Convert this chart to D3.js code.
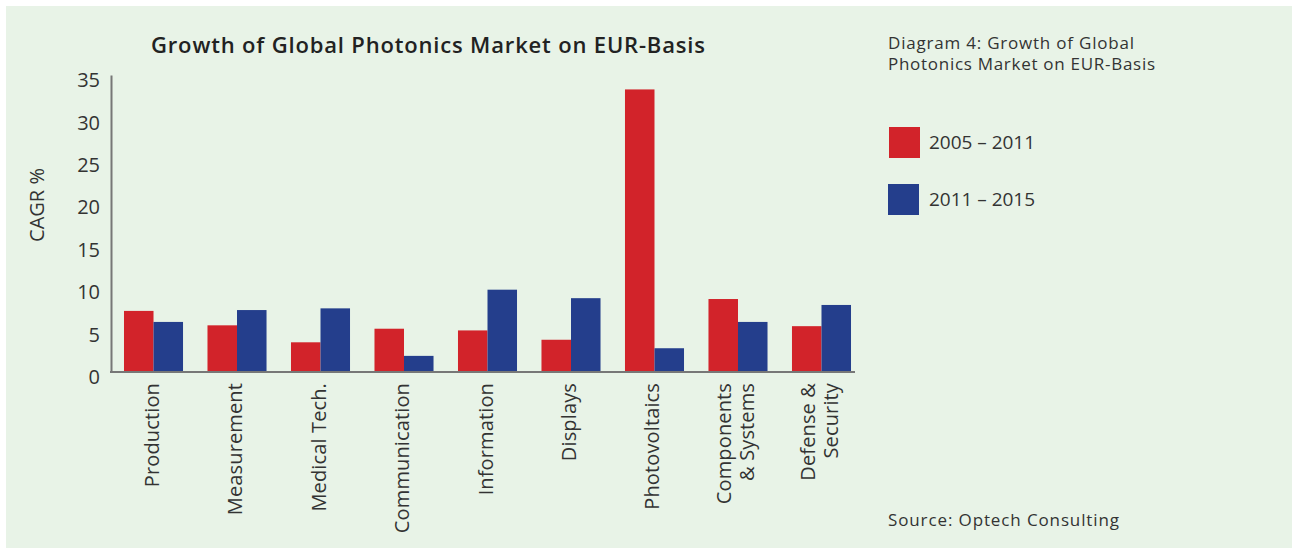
<!DOCTYPE html>
<html>
<head>
<meta charset="utf-8">
<script src="https://cdn.jsdelivr.net/npm/d3@7"></script>
<style>
  html, body { margin: 0; padding: 0; background: #ffffff; }
  svg { display: block; }
  text { font-family: "Open Sans", Lato, sans-serif; fill: #333333; }
</style>
</head>
<body>
<svg id="chart" width="1292" height="548"></svg>
<script>
const categories = ["Production", "Measurement", "Medical Tech.", "Communication", "Information", "Displays", "Photovoltaics", "Components\n& Systems", "Defense &\nSecurity"];
const series2005_2011 = [7.2, 5.5, 3.5, 5.1, 4.9, 3.8, 33.3, 8.6, 5.4];
const series2011_2015 = [5.9, 7.3, 7.5, 1.9, 9.7, 8.7, 2.8, 5.9, 7.9];
const seriesNames = ["2005 – 2011", "2011 – 2015"];
const yTicks = [0, 5, 10, 15, 20, 25, 30, 35];
const colors = ["#d2232a", "#243e8c"];

const svg = d3.select("#chart");
svg.append("rect").attr("x", 6).attr("y", 6).attr("width", 1286).attr("height", 542).attr("fill", "#e8f3e7");

function fit(sel, target) {
  const node = sel.node();
  const w = node.getComputedTextLength();
  const n = node.textContent.length;
  sel.style("letter-spacing", ((target - w) / Math.max(1, n - 1)) + "px");
}

const y = d3.scaleLinear().domain([0, 35]).range([372, 75]);
const x = d3.scaleBand().domain(categories).range([111.8, 863.2]).paddingInner(0.293).paddingOuter(0.146);
const xs = d3.scaleBand().domain([0, 1]).range([0, x.bandwidth()]);

// title
const title = svg.append("text").attr("x", 151).attr("y", 53)
  .style("font-size", "22px").style("font-weight", "600").style("fill", "#222")
  .text("Growth of Global Photonics Market on EUR-Basis");
fit(title, 554);

// y axis
const yAxis = svg.append("g").attr("transform", "translate(111,0)")
  .call(d3.axisLeft(y).tickValues(yTicks).tickSize(0).tickPadding(11));
yAxis.select(".domain").attr("stroke", "#777").attr("stroke-width", 2);
yAxis.selectAll(".tick text").style("font-size", "20px").attr("dy", "0.58em").style("fill", "#333")
  .style("font-family", "'Open Sans', Lato, sans-serif");

// y axis title
svg.append("text").attr("transform", "translate(44,205) rotate(-90)").attr("text-anchor", "middle")
  .style("font-size", "20px").text("CAGR %");

// bars
const data = categories.map((c, i) => ({ c, v: [series2005_2011[i], series2011_2015[i]] }));
const g = svg.append("g");
data.forEach(d => {
  d.v.forEach((v, k) => {
    g.append("rect").attr("x", x(d.c) + xs(k)).attr("width", xs.bandwidth())
      .attr("y", y(v)).attr("height", y(0) - y(v)).attr("fill", colors[k]);
  });
});

// x axis line
const xAxis = svg.append("g").attr("transform", "translate(0,372)")
  .call(d3.axisBottom(x).tickSize(0).tickFormat(""));
xAxis.select(".domain").attr("d", "M110,0H855").attr("stroke", "#777").attr("stroke-width", 2);

// category labels
const probe = svg.append("text").style("font-size", "20px").text("Production");
const ls = (104 - probe.node().getComputedTextLength()) / 9;
probe.remove();
categories.forEach(c => {
  const lines = c.split("\n");
  const cx = x(c) + x.bandwidth() / 2 - 2;
  const n = lines.length;
  const t = svg.append("text").attr("transform", `translate(${cx},383) rotate(-90)`)
    .attr("text-anchor", "end").style("font-size", "20px").style("letter-spacing", ls + "px");
  lines.forEach((l, i) => {
    t.append("tspan").attr("x", 0).attr("y", (i - (n - 1) / 2) * 23).attr("dy", "0.35em").text(l);
  });
});

// side note
const n1 = svg.append("text").attr("x", 888).attr("y", 49).style("font-size", "17px").text("Diagram 4: Growth of Global");
fit(n1, 246);
const n2 = svg.append("text").attr("x", 888).attr("y", 70).style("font-size", "17px").text("Photonics Market on EUR-Basis");
fit(n2, 267);

// legend
const legY = [127, 184];
seriesNames.forEach((s, k) => {
  svg.append("rect").attr("x", 889 - k).attr("y", legY[k]).attr("width", 31).attr("height", 31).attr("fill", colors[k]);
  const t = svg.append("text").attr("x", 929).attr("y", legY[k] + 15.5).attr("dy", "0.35em")
    .style("font-size", "19px").text(s);
  fit(t, 106);
});

// source
const src = svg.append("text").attr("x", 888).attr("y", 526).style("font-size", "17px").text("Source: Optech Consulting");
fit(src, 231);
</script>
</body>
</html>
